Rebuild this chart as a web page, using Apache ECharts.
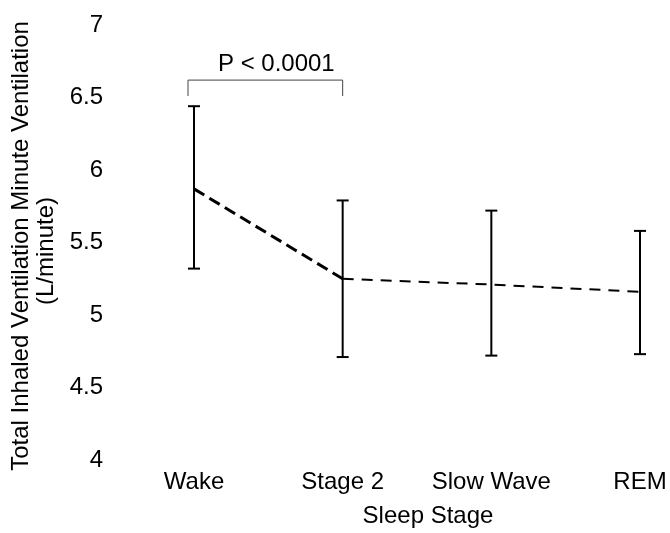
<!DOCTYPE html>
<html>
<head>
<meta charset="utf-8">
<script src="https://cdn.jsdelivr.net/npm/echarts@6/dist/echarts.min.js"></script>
<style>
  html, body { margin: 0; padding: 0; background: #fff; }
  #chart { width: 670px; height: 533px; }
</style>
</head>
<body>
<div id="chart"></div>
<script>
const categories = ['Wake', 'Stage 2', 'Slow Wave', 'REM'];
const means = [5.87, 5.25, 5.21, 5.16];
const upper = [6.44, 5.79, 5.72, 5.58];
const lower = [5.32, 4.71, 4.72, 4.73];
const yMin = 4, yMax = 7, yStep = 0.5;
const pText = 'P < 0.0001';
// bracket spans Wake -> Stage 2, [from, to, top, foot] in axis units
const bracket = [0, 1, 6.62, 6.51];

const FONT = 'Arial, "Liberation Sans", sans-serif';

const chart = echarts.init(document.getElementById('chart'));

const errorBars = {
    type: 'custom',
    renderItem: (params, api) => {
        const i = api.value(0);
        const hi = api.coord([i, api.value(2)]);
        const lo = api.coord([i, api.value(1)]);
        const w = 6;
        const style = { stroke: '#000', lineWidth: 2 };
        return {
            type: 'group',
            children: [
                { type: 'line', shape: { x1: hi[0], y1: hi[1], x2: lo[0], y2: lo[1] }, style },
                { type: 'line', shape: { x1: hi[0] - w, y1: hi[1], x2: hi[0] + w, y2: hi[1] }, style },
                { type: 'line', shape: { x1: lo[0] - w, y1: lo[1], x2: lo[0] + w, y2: lo[1] }, style }
            ]
        };
    },
    data: categories.map((c, i) => [i, lower[i], upper[i]]),
    z: 3
};

const bracketSeries = {
    type: 'custom',
    renderItem: (params, api) => {
        const a = api.coord([api.value(0), api.value(2)]);
        const b = api.coord([api.value(1), api.value(2)]);
        const af = api.coord([api.value(0), api.value(3)]);
        const bf = api.coord([api.value(1), api.value(3)]);
        return {
            type: 'group',
            children: [
                {
                    type: 'polyline',
                    shape: { points: [[af[0] - 6, af[1]], [a[0] - 6, a[1]], [b[0], b[1]], [bf[0], bf[1]]] },
                    style: { stroke: '#444', lineWidth: 1, fill: null }
                },
                {
                    type: 'text',
                    style: {
                        text: pText, x: (a[0] + b[0]) / 2 + 8, y: a[1] - 4,
                        textAlign: 'center', textVerticalAlign: 'bottom',
                        font: '24px ' + FONT, fill: '#000'
                    }
                }
            ]
        };
    },
    data: [bracket],
    z: 2
};

const option = {
    animation: false,
    backgroundColor: '#fff',
    grid: { left: 194, right: 30, top: 25, bottom: 70 },
    xAxis: {
        type: 'category', data: categories, boundaryGap: false,
        axisLine: { show: false },
        axisTick: { show: false },
        axisLabel: { interval: 0, fontSize: 24, fontFamily: FONT, color: '#000', margin: 10 },
        name: 'Sleep Stage', nameLocation: 'middle', nameGap: 44,
        nameTextStyle: { fontSize: 24, fontFamily: FONT, color: '#000', padding: [0, 0, 0, 22] }
    },
    yAxis: {
        type: 'value', min: yMin, max: yMax, interval: yStep,
        axisLine: { show: false }, axisTick: { show: false }, splitLine: { show: false },
        axisLabel: { fontSize: 24, fontFamily: FONT, color: '#000', margin: 91 }
    },
    graphic: [
        {
            type: 'text', x: 21, y: 246, rotation: Math.PI / 2,
            style: {
                text: 'Total Inhaled Ventilation Minute Ventilation',
                textAlign: 'center', textVerticalAlign: 'middle',
                font: '24px ' + FONT, fill: '#000'
            }
        },
        {
            type: 'text', x: 46, y: 251, rotation: Math.PI / 2,
            style: {
                text: '(L/minute)',
                textAlign: 'center', textVerticalAlign: 'middle',
                font: '24px ' + FONT, fill: '#000'
            }
        }
    ],
    series: [
        {
            type: 'line',
            data: means.map((v, i) => (i <= 1 ? v : '-')),
            symbol: 'none',
            lineStyle: { color: '#000', width: 3, type: [12, 6] },
            z: 4
        },
        {
            type: 'line',
            data: means.map((v, i) => (i >= 1 ? v : '-')),
            symbol: 'none',
            lineStyle: { color: '#000', width: 2, type: [11, 8] },
            z: 4
        },
        errorBars,
        bracketSeries
    ]
};

chart.setOption(option);
</script>
</body>
</html>
